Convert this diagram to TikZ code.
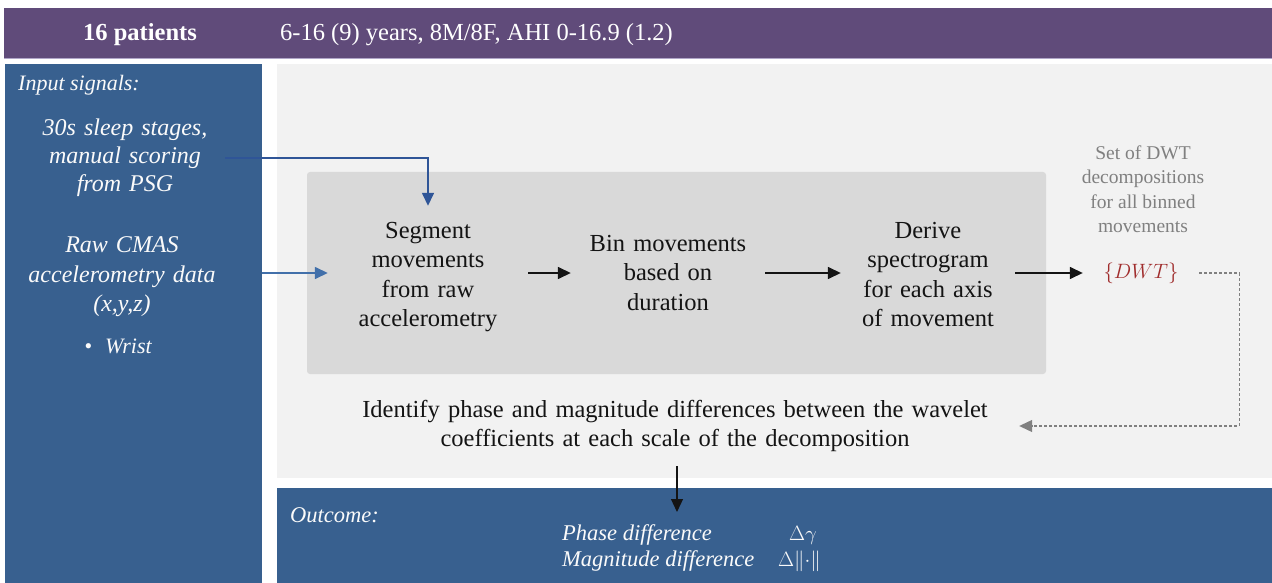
\documentclass[tikz,border=0pt]{standalone}
\usepackage{fontspec}
\setmainfont{Liberation Serif}
\usetikzlibrary{arrows.meta,calc}

\definecolor{barpurple}{RGB}{96,75,122}
\definecolor{barline}{RGB}{176,166,200}
\definecolor{panelblue}{RGB}{56,96,143}
\definecolor{panelgray}{RGB}{242,242,242}
\definecolor{stagegray}{RGB}{217,217,217}
\definecolor{linkdark}{RGB}{47,85,151}
\definecolor{linklight}{RGB}{66,112,170}
\definecolor{dwtred}{RGB}{160,45,45}
\definecolor{notegray}{RGB}{128,128,128}
\definecolor{inktext}{RGB}{20,20,20}
\definecolor{paper}{RGB}{250,250,250}

\tikzset{
  panel/.style={inner sep=0pt, outer sep=0pt, anchor=north west},
  stepbox/.style={align=center, text=inktext, inner xsep=0pt, inner ysep=0pt,
    font=\fontsize{24.5pt}{29.5pt}\selectfont},
  inputtext/.style={align=center, text=paper, inner sep=0pt,
    font=\fontsize{24pt}{28pt}\selectfont\itshape},
  headtext/.style={text=white, inner sep=0pt, font=\fontsize{24.5pt}{29pt}\selectfont},
  outtext/.style={text=paper, inner sep=0pt, font=\fontsize{22.5pt}{26pt}\selectfont\itshape},
  flow/.style={-{Triangle[length=13pt,width=12pt]}, line width=1.5pt, inktext},
  feed/.style={-{Triangle[length=13pt,width=12pt]}, line width=1.5pt},
  loopback/.style={-{Triangle[length=13pt,width=12pt]}, line width=1.1pt,
    notegray, dash pattern=on 3pt off 2pt},
}

\begin{document}
\begin{tikzpicture}[x=1pt,y=-1pt]
\useasboundingbox (0,0) rectangle (1272,583);

% background panels
\node[panel, fill=barpurple, minimum width=1268pt, minimum height=51pt] (bar) at (4,8) {};
\draw[barline, line width=1pt] (bar.south west) -- (bar.south east);
\node[panel, fill=panelblue, minimum width=257pt, minimum height=519pt] (inpanel) at (5,64) {};
\node[panel, fill=panelgray, minimum width=995pt, minimum height=414pt] (work) at (277,64) {};
\node[panel, fill=panelblue, minimum width=995pt, minimum height=95pt] (outpanel) at (277,488) {};
\node[panel, fill=stagegray, rounded corners=3pt, minimum width=739pt, minimum height=202pt] (stage) at (307,172) {};

% header
\node[headtext, font=\fontsize{24.5pt}{29pt}\selectfont\bfseries, anchor=base] (count) at (140,41) {16 patients};
\node[headtext, anchor=base west] (demo) at (280,41) {6-16 (9) years, 8M/8F, AHI 0-16.9 (1.2)};

% input signals
\node[inputtext, font=\fontsize{22pt}{26pt}\selectfont\itshape, anchor=base west] (inlabel) at (18,91) {Input signals:};
\node[inputtext, text width=200pt] (sleep) at (125,158) {30s sleep stages,\\ manual scoring\\ from PSG};
\node[inputtext, text width=200pt, font=\fontsize{24pt}{29.5pt}\selectfont\itshape] (raw) at (122,277) {Raw CMAS\\ accelerometry data\\ (x,y,z)};
\node[inputtext, font=\fontsize{22pt}{26pt}\selectfont\itshape, anchor=base] (wrist) at (118,353) {\textbullet\hspace{0.6em}Wrist};

% processing steps
\node[stepbox, text width=150pt, inner xsep=25pt, inner ysep=16pt] (seg) at (428,277) {Segment\\ movements\\ from raw\\ accelerometry};
\node[stepbox, text width=160pt, inner xsep=17pt] (bin) at (668,273) {Bin movements\\ based on\\ duration};
\node[stepbox, text width=140pt, inner xsep=17pt] (spec) at (928,274.5) {Derive\\ spectrogram\\ for each axis\\ of movement};
\node[inner sep=0pt, minimum width=116pt, minimum height=26pt, text=dwtred,
      font=\fontsize{20pt}{24pt}\selectfont] (dwt) at (1141,273) {$\{DWT\}$};
\node[align=center, text=notegray, inner sep=0pt, font=\fontsize{19.5pt}{24.5pt}\selectfont] (dwtnote) at (1143,189) {Set of DWT\\ decompositions\\ for all binned\\ movements};
\node[stepbox, text width=680pt, inner xsep=4pt, inner ysep=14pt] (diff) at (675,426) {Identify phase and magnitude differences between the wavelet\\ coefficients at each scale of the decomposition};

% outcome
\node[outtext, anchor=base west] (outlabel) at (290,522) {Outcome:};
\node[outtext, anchor=base west] (phase) at (562,540) {Phase difference};
\node[outtext, anchor=base west] (magn) at (562,566) {Magnitude difference};
\node[text=paper, inner sep=0pt, anchor=base west, font=\fontsize{22pt}{26pt}\selectfont] (dgamma) at (789,540) {$\Delta\gamma$};
\node[text=paper, inner sep=0pt, anchor=base west, font=\fontsize{22pt}{26pt}\selectfont] (dnorm) at (778,566) {$\Delta\|{\cdot}\|$};
\coordinate (outtip) at (677,512);

% connectors
\draw[feed, linkdark] (sleep.east) -| (seg.north);
\draw[feed, linklight] (inpanel.east |- bin.west) -- (seg.west |- bin.west);
\draw[flow] (seg.east |- bin.west) -- (bin.west);
\draw[flow] (bin.east) -- (spec.west |- bin.east);
\draw[flow] (spec.east |- dwt.west) -- (dwt.west);
\draw[loopback] (dwt.east) -- ++(40,0) |- (diff.east);
\draw[flow, line width=1.2pt] (diff.south -| outtip) -- (outtip);
\end{tikzpicture}
\end{document}
